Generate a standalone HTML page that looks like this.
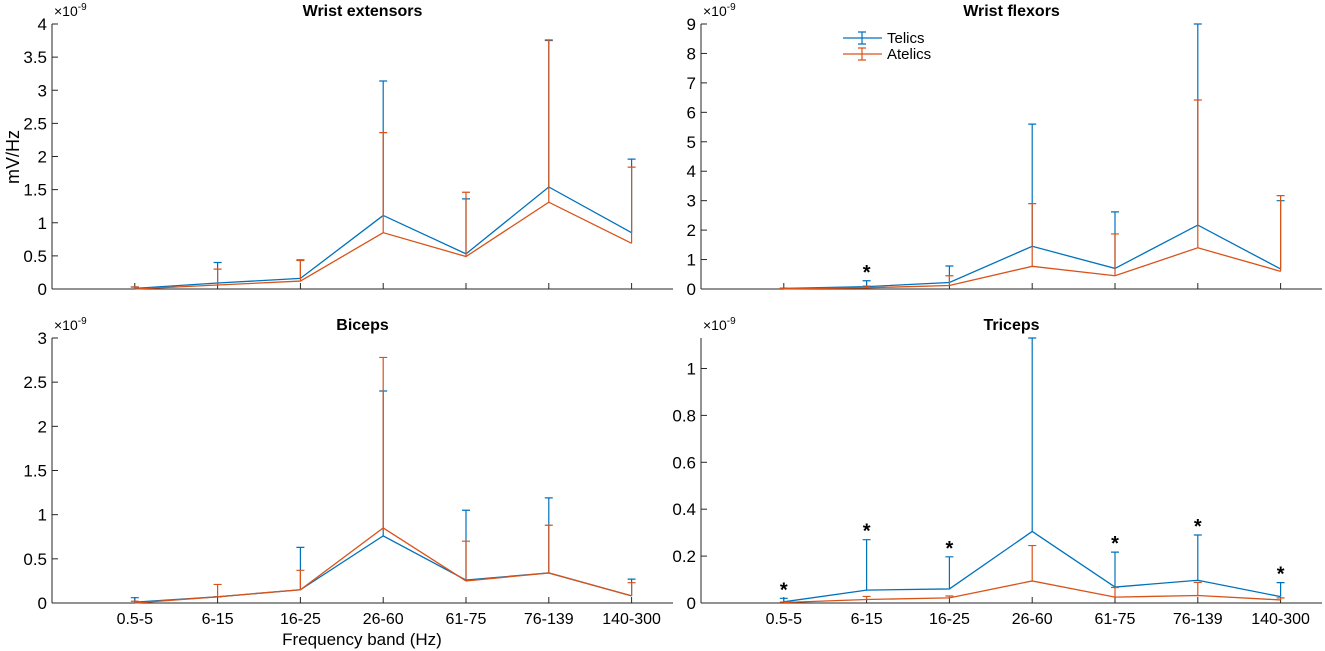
<!DOCTYPE html>
<html><head><meta charset="utf-8"><style>
html,body{margin:0;padding:0;background:#fff;}
svg{display:block;font-family:"Liberation Sans",sans-serif;}
</style></head><body>
<svg id="fig" width="1325" height="651" viewBox="0 0 1325 651"></svg>
<script>
const categories = ["0.5-5","6-15","16-25","26-60","61-75","76-139","140-300"];
const seriesNames = ["Telics","Atelics"];
// Wrist extensors
const weTelMean = [0.01,0.09,0.16,1.11,0.53,1.54,0.85];
const weTelUp   = [0.03,0.40,0.44,3.14,1.36,3.75,1.96];
const weAtlMean = [0.00,0.06,0.12,0.85,0.49,1.31,0.69];
const weAtlUp   = [0.03,0.30,0.43,2.36,1.46,3.76,1.84];
const weTicks = [0,0.5,1,1.5,2,2.5,3,3.5,4];
const weStars = [];
// Wrist flexors
const wfTelMean = [0.02,0.08,0.22,1.45,0.70,2.17,0.68];
const wfTelUp   = [0.03,0.28,0.78,5.60,2.62,9.00,3.00];
const wfAtlMean = [0.01,0.04,0.12,0.77,0.45,1.40,0.60];
const wfAtlUp   = [0.02,0.10,0.45,2.90,1.87,6.42,3.17];
const wfTicks = [0,1,2,3,4,5,6,7,8,9];
const wfStars = [1];
// Biceps
const biTelMean = [0.01,0.07,0.15,0.76,0.26,0.34,0.08];
const biTelUp   = [0.06,0.07,0.63,2.40,1.05,1.19,0.27];
const biAtlMean = [0.00,0.07,0.15,0.85,0.25,0.34,0.08];
const biAtlUp   = [0.02,0.21,0.37,2.78,0.70,0.88,0.23];
const biTicks = [0,0.5,1,1.5,2,2.5,3];
const biStars = [];
// Triceps
const trTelMean = [0.005,0.055,0.06,0.305,0.068,0.097,0.027];
const trTelUp   = [0.02,0.27,0.197,1.13,0.217,0.29,0.087];
const trAtlMean = [0.002,0.015,0.022,0.094,0.025,0.032,0.013];
const trAtlUp   = [0.004,0.028,0.03,0.245,0.066,0.088,0.022];
const trTicks = [0,0.2,0.4,0.6,0.8,1];
const trStars = [0,1,2,4,5,6];

const NS="http://www.w3.org/2000/svg";
const svg=document.getElementById('fig');
const BLUE="#0072BD", ORANGE="#D95319", AX="#262626";
function mk(tag,attrs,parent){const e=document.createElementNS(NS,tag);for(const k in attrs)e.setAttribute(k,attrs[k]);(parent||svg).appendChild(e);return e;}

function panel(o){
  const g=mk('g',{});
  
  
  const x0=o.left, slot=82.8, y0=o.bottom, h=265;
  const xr=x0+7.5*slot;
  const X=i=>x0+(i+1)*slot;
  const Y=v=>y0-v/o.ymax*h;
  const ya=mk('line',{x1:x0,y1:y0-h,x2:x0,y2:y0,stroke:AX,'stroke-width':1},g);
  
  
  const xa=mk('line',{x1:x0,y1:y0,x2:xr,y2:y0,stroke:AX,'stroke-width':1},g);
  
  
  o.ticks.forEach(t=>{
    mk('line',{x1:x0,y1:Y(t),x2:x0+6,y2:Y(t),stroke:AX},g);
    const tx=mk('text',{x:x0-5,y:Y(t)+6,'text-anchor':'end','font-size':17,fill:'#000'},g);
    tx.textContent=String(t);
    
    
  });
  const ex=mk('text',{x:x0+2,y:y0-h-8,'font-size':14,fill:'#000'},g);
  ex.innerHTML='×10<tspan dy="-6" font-size="10">-9</tspan>';
  
  
  categories.forEach((c,i)=>{
    mk('line',{x1:X(i),y1:y0,x2:X(i),y2:y0-6,stroke:AX},g);
    if(o.xlabels){
      const t=mk('text',{x:X(i),y:y0+21,'text-anchor':'middle','font-size':16,fill:'#000'},g);
      t.textContent=c;
      
      
    }
  });
  const ti=mk('text',{x:(x0+xr)/2,y:y0-h-8,'text-anchor':'middle','font-size':16,'font-weight':'bold',fill:'#000'},g);
  ti.textContent=o.title;
  
  
  const series=[[o.tm,o.tu,BLUE,'telics'],[o.am,o.au,ORANGE,'atelics']];
  series.forEach(([m,u,col,nm])=>{
    m.forEach((v,i)=>{
      const eb=mk('path',{d:`M${X(i)},${Y(v)}V${Y(u[i])}M${X(i)-4},${Y(u[i])}H${X(i)+4}`,stroke:col,'stroke-width':1.2,fill:'none'},g);
      
      
    });
    const pl=mk('polyline',{points:m.map((v,i)=>X(i)+','+Y(v)).join(' '),stroke:col,'stroke-width':1.3,fill:'none'},g);
    
    
  });
  o.stars.forEach(i=>{
    const top=Math.max(o.tu[i],o.au[i]);
    const s=mk('text',{x:X(i),y:Y(top)-2,'text-anchor':'middle','font-size':20,'font-weight':'bold',fill:'#000'},g);
    s.textContent='*';
    
    
  });
}
panel({name:'wrist-extensors-panel',title:'Wrist extensors',left:52,bottom:289,ymax:4,ticks:weTicks,tm:weTelMean,tu:weTelUp,am:weAtlMean,au:weAtlUp,stars:weStars,xlabels:false});
panel({name:'wrist-flexors-panel',title:'Wrist flexors',left:701,bottom:289,ymax:9,ticks:wfTicks,tm:wfTelMean,tu:wfTelUp,am:wfAtlMean,au:wfAtlUp,stars:wfStars,xlabels:false});
panel({name:'biceps-panel',title:'Biceps',left:52,bottom:603,ymax:3,ticks:biTicks,tm:biTelMean,tu:biTelUp,am:biAtlMean,au:biAtlUp,stars:biStars,xlabels:true});
panel({name:'triceps-panel',title:'Triceps',left:701,bottom:603,ymax:1.13,ticks:trTicks,tm:trTelMean,tu:trTelUp,am:trAtlMean,au:trAtlUp,stars:trStars,xlabels:true});

const yl=mk('text',{x:0,y:0,transform:'translate(19,157) rotate(-90)','text-anchor':'middle','font-size':18,fill:'#000'});
yl.textContent='mV/Hz';


const xl=mk('text',{x:362,y:645,'text-anchor':'middle','font-size':17,fill:'#000'});
xl.textContent='Frequency band (Hz)';



const lg=mk('g',{});


[[BLUE,38],[ORANGE,54]].forEach(([c,y],k)=>{
  const le=mk('g',{},lg);
  
  
  mk('path',{d:`M843,${y}H882M862,${y-6}V${y+6}M858,${y-6}H866M858,${y+6}H866`,stroke:c,'stroke-width':1.2,fill:'none'},le);
  const t=mk('text',{x:887,y:y+5,'font-size':15,fill:'#000'},le);
  t.textContent=seriesNames[k];
});
</script>
</body></html>
